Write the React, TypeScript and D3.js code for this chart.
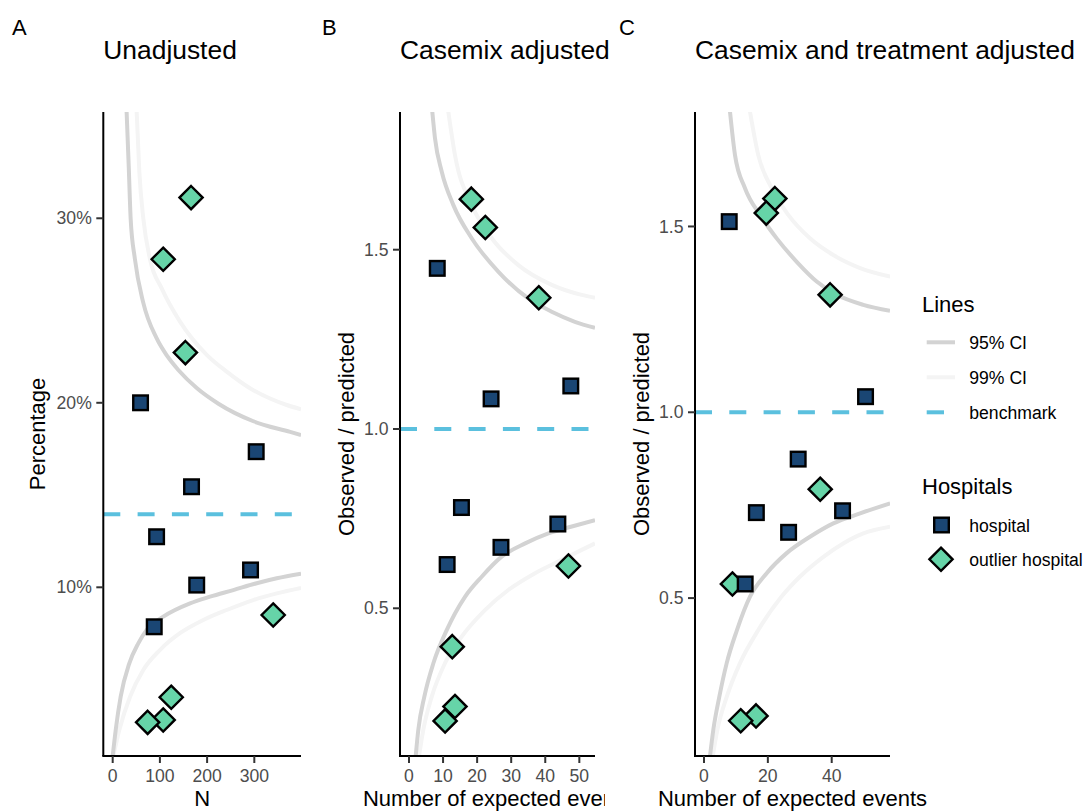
import React from "react";
import * as d3 from "d3";

type Pt = [number, number];

// ---------------- DATA ----------------
// Panel A: Unadjusted (N vs percentage)
const aHospital: Pt[] = [
  [59, 20.0], [304, 17.35], [167, 15.45], [93, 12.74], [292, 10.94], [178, 10.12], [88, 7.86],
];
const aOutlier: Pt[] = [
  [166, 31.12], [107, 27.78], [154, 22.72], [340, 8.5], [124, 4.04], [107, 2.81], [74, 2.68],
];
const aBenchmark = 13.96;
const aUpper95: Pt[] = [
  [29.5, 35.76], [34, 32.8], [38, 30.0], [47, 27.8], [65, 25.4], [93, 23.5], [115, 22.55],
  [140, 21.75], [178, 20.8], [224, 19.95], [298, 19.0], [376, 18.42], [399, 18.25],
];
const aUpper99: Pt[] = [
  [50.8, 35.76], [56.4, 32.53], [64.8, 30.0], [79, 27.78], [103.8, 26.2], [142.6, 24.4],
  [199.2, 22.6], [241.5, 21.69], [290.9, 20.79], [368.6, 19.88], [399, 19.65],
];
const aLower95: Pt[] = [
  [0, 0.86], [6.4, 2.27], [16.9, 4.07], [35.2, 5.88], [54.2, 6.96], [72, 7.69], [107.2, 8.41],
  [163.8, 9.13], [206.1, 9.49], [255.5, 9.85], [305, 10.22], [347.5, 10.49], [399, 10.74],
];
const aLower99: Pt[] = [
  [1.3, 0.86], [14, 2.27], [36.7, 4.07], [64.8, 5.52], [100, 6.6], [142.4, 7.51], [192, 8.23],
  [241.5, 8.77], [297.9, 9.31], [347.5, 9.67], [399, 9.97],
];
const aXTicks = [0, 100, 200, 300];
const aYTicks = [10, 20, 30];

// Panel B: Casemix adjusted (expected events vs O/P)
const bHospital: Pt[] = [
  [8.3, 1.448], [24.1, 1.084], [47.5, 1.12], [15.4, 0.781], [43.7, 0.735], [27.0, 0.67], [11.2, 0.622],
];
const bOutlier: Pt[] = [
  [18.3, 1.641], [22.4, 1.562], [38.1, 1.366], [46.8, 0.618], [12.7, 0.393], [13.5, 0.226], [10.6, 0.186],
];
const bBenchmark = 1.0;
const bUpper95: Pt[] = [
  [6.84, 1.885], [7.63, 1.811], [9.6, 1.718], [13.0, 1.625], [18.4, 1.532], [26.2, 1.439],
  [35.0, 1.364], [41.9, 1.327], [48.7, 1.299], [54.6, 1.282],
];
const bUpper99: Pt[] = [
  [11.54, 1.885], [13.5, 1.764], [18.4, 1.625], [24.3, 1.532], [32.1, 1.457], [41.9, 1.402],
  [50.7, 1.374], [54.6, 1.366],
];
const bLower95: Pt[] = [
  [1.97, 0.088], [2.73, 0.161], [4.49, 0.253], [7.13, 0.346], [11.07, 0.439], [16.44, 0.532],
  [21.34, 0.588], [27.2, 0.644], [34.1, 0.681], [40.9, 0.709], [47.8, 0.728], [54.6, 0.746],
];
const bLower99: Pt[] = [
  [2.94, 0.088], [4.2, 0.161], [6.66, 0.253], [10.57, 0.347], [15.47, 0.421], [22.3, 0.495],
  [29.15, 0.551], [37.0, 0.598], [44.8, 0.635], [50.7, 0.663], [54.6, 0.681],
];
const bXTicks = [0, 10, 20, 30, 40, 50];
const bYTicks = [0.5, 1.0, 1.5];

// Panel C: Casemix and treatment adjusted
const cHospital: Pt[] = [
  [7.9, 1.513], [50.6, 1.042], [29.5, 0.874], [16.4, 0.73], [43.4, 0.735], [26.5, 0.677], [12.9, 0.538],
];
const cOutlier: Pt[] = [
  [22.2, 1.575], [19.5, 1.536], [39.5, 1.316], [36.4, 0.793], [8.9, 0.538], [16.3, 0.183], [11.5, 0.17],
];
const cBenchmark = 1.0;
const cUpper95: Pt[] = [
  [8.14, 1.809], [9.71, 1.692], [12.84, 1.603], [17.54, 1.531], [22.77, 1.468], [29.04, 1.405],
  [35.3, 1.352], [41.57, 1.316], [49.9, 1.289], [58.26, 1.273],
];
const cUpper99: Pt[] = [
  [14.4, 1.809], [17.0, 1.692], [21.2, 1.603], [26.4, 1.531], [33.2, 1.468], [40.5, 1.423],
  [48.9, 1.388], [58.3, 1.365],
];
const cLower95: Pt[] = [
  [1.88, 0.075], [2.91, 0.145], [4.79, 0.234], [7.11, 0.325], [10.24, 0.412], [14.41, 0.504],
  [19.64, 0.567], [25.9, 0.621], [33.2, 0.665], [40.5, 0.701], [48.9, 0.728], [58.3, 0.755],
];
const cLower99: Pt[] = [
  [2.73, 0.075], [4.17, 0.145], [7.11, 0.234], [11.28, 0.325], [17.0, 0.414], [24.3, 0.504],
  [30.1, 0.558], [37.4, 0.611], [43.6, 0.647], [49.9, 0.674], [58.3, 0.692],
];
const cXTicks = [0, 20, 40];
const cYTicks = [0.5, 1.0, 1.5];

const legendLineLabels = ["95% CI", "99% CI", "benchmark"];
const legendPointLabels = ["hospital", "outlier hospital"];

// ---------------- STYLE / LAYOUT ----------------
const FONT = "'Liberation Sans', Arial, Helvetica, sans-serif";
const COL_95 = "#d3d3d3";
const COL_99 = "#f4f4f4";
const COL_BENCH = "#5bc0de";
const COL_HOSP = "#1a4674";
const COL_OUT = "#66d4a8";
const TICK_COL = "#4d4d4d";
const SQ = 14.6;
const DI = 11.6;
const MARK_SW = 2.4;

interface PanelCfg {
  id: string;
  tag: string;
  tagX: number;
  title: string;
  left: number;
  right: number;
  top: number;
  bottom: number;
  xDomain: [number, number];
  yDomain: [number, number];
  xTicks: number[];
  yTicks: number[];
  yFmt: (v: number) => string;
  xTitle: string;
  yTitle: string;
  yTitleX: number;
  clipRight?: number;
  hospital: Pt[];
  outlier: Pt[];
  bench: number;
  u95: Pt[];
  u99: Pt[];
  l95: Pt[];
  l99: Pt[];
}

const panels: PanelCfg[] = [
  {
    id: "A", tag: "A", tagX: 12, title: "Unadjusted",
    left: 103.3, right: 301, top: 112, bottom: 756,
    xDomain: [-19.9, 398.9], yDomain: [0.857, 35.76],
    xTicks: aXTicks, yTicks: aYTicks, yFmt: (v) => `${v}%`,
    xTitle: "N", yTitle: "Percentage", yTitleX: 45,
    hospital: aHospital, outlier: aOutlier, bench: aBenchmark,
    u95: aUpper95, u99: aUpper99, l95: aLower95, l99: aLower99,
  },
  {
    id: "B", tag: "B", tagX: 322, title: "Casemix adjusted",
    left: 400, right: 595, top: 112, bottom: 756,
    xDomain: [-2.64, 54.6], yDomain: [0.0881, 1.884],
    xTicks: bXTicks, yTicks: bYTicks, yFmt: (v) => d3.format(".1f")(v),
    xTitle: "Number of expected events", yTitle: "Observed / predicted", yTitleX: 354,
    clipRight: 605,
    hospital: bHospital, outlier: bOutlier, bench: bBenchmark,
    u95: bUpper95, u99: bUpper99, l95: bLower95, l99: bLower99,
  },
  {
    id: "C", tag: "C", tagX: 619, title: "Casemix and treatment adjusted",
    left: 695, right: 890, top: 112, bottom: 756,
    xDomain: [-2.82, 58.26], yDomain: [0.0751, 1.808],
    xTicks: cXTicks, yTicks: cYTicks, yFmt: (v) => d3.format(".1f")(v),
    xTitle: "Number of expected events", yTitle: "Observed / predicted", yTitleX: 649,
    hospital: cHospital, outlier: cOutlier, bench: cBenchmark,
    u95: cUpper95, u99: cUpper99, l95: cLower95, l99: cLower99,
  },
];

const diamondPath = (cx: number, cy: number, h: number) =>
  `M${cx},${cy - h}L${cx + h},${cy}L${cx},${cy + h}L${cx - h},${cy}Z`;

function Panel({ cfg }: { cfg: PanelCfg }) {
  const x = d3.scaleLinear().domain(cfg.xDomain).range([cfg.left, cfg.right]);
  const y = d3.scaleLinear().domain(cfg.yDomain).range([cfg.bottom, cfg.top]);
  const line = d3
    .line<Pt>()
    .x((d) => x(d[0]))
    .y((d) => y(d[1]))
    .curve(d3.curveMonotoneX);
  const clipId = `clip-${cfg.id}`;
  const cellClip = `cell-${cfg.id}`;
  const midY = (cfg.top + cfg.bottom) / 2;
  const midX = (cfg.left + cfg.right) / 2;
  return (
    <g>
      <defs>
        <clipPath id={clipId}>
          <rect x={cfg.left} y={cfg.top} width={cfg.right - cfg.left} height={cfg.bottom - cfg.top} />
        </clipPath>
        {cfg.clipRight && (
          <clipPath id={cellClip}>
            <rect x={0} y={0} width={cfg.clipRight} height={811} />
          </clipPath>
        )}
      </defs>
      {/* tag & title */}
      <text x={cfg.tagX} y={35} fontSize={22} fontFamily={FONT} fill="#000">{cfg.tag}</text>
      <text x={cfg.left} y={59.3} fontSize={26.4} fontFamily={FONT} fill="#000">{cfg.title}</text>

      {/* data layer */}
      <g clipPath={`url(#${clipId})`}>
        {[cfg.u99, cfg.l99].map((s, i) => (
          <path key={`99-${i}`} d={line(s) || ""} fill="none" stroke={COL_99} strokeWidth={4} />
        ))}
        {[cfg.u95, cfg.l95].map((s, i) => (
          <path key={`95-${i}`} d={line(s) || ""} fill="none" stroke={COL_95} strokeWidth={4} />
        ))}
        <line
          x1={x(cfg.xDomain[0])}
          x2={x(cfg.xDomain[1])}
          y1={y(cfg.bench)}
          y2={y(cfg.bench)}
          stroke={COL_BENCH}
          strokeWidth={4}
          strokeDasharray="17 17.3"
        />
        {cfg.outlier.map((d, i) => (
          <path
            key={`o-${i}`}
            d={diamondPath(x(d[0]), y(d[1]), DI)}
            fill={COL_OUT}
            stroke="#000"
            strokeWidth={MARK_SW}
            strokeLinejoin="miter"
          />
        ))}
        {cfg.hospital.map((d, i) => (
          <rect
            key={`h-${i}`}
            x={x(d[0]) - SQ / 2}
            y={y(d[1]) - SQ / 2}
            width={SQ}
            height={SQ}
            fill={COL_HOSP}
            stroke="#000"
            strokeWidth={MARK_SW}
          />
        ))}
      </g>

      {/* axes */}
      <line x1={cfg.left} x2={cfg.left} y1={cfg.top} y2={cfg.bottom} stroke="#000" strokeWidth={2} />
      <line x1={cfg.left - 1} x2={cfg.right} y1={cfg.bottom} y2={cfg.bottom} stroke="#000" strokeWidth={2} />
      {cfg.yTicks.map((t) => (
        <g key={`yt-${t}`}>
          <line x1={cfg.left - 7} x2={cfg.left} y1={y(t)} y2={y(t)} stroke="#333" strokeWidth={2} />
          <text
            x={cfg.left - 11.5}
            y={y(t)}
            dy="0.35em"
            textAnchor="end"
            fontSize={17.6}
            fontFamily={FONT}
            fill={TICK_COL}
          >
            {cfg.yFmt(t)}
          </text>
        </g>
      ))}
      {cfg.xTicks.map((t) => (
        <g key={`xt-${t}`}>
          <line x1={x(t)} x2={x(t)} y1={cfg.bottom} y2={cfg.bottom + 7} stroke="#333" strokeWidth={2} />
          <text x={x(t)} y={781.5} textAnchor="middle" fontSize={17.6} fontFamily={FONT} fill={TICK_COL}>
            {t}
          </text>
        </g>
      ))}
      <g clipPath={cfg.clipRight ? `url(#${cellClip})` : undefined}>
        <text x={midX} y={806} textAnchor="middle" fontSize={22} fontFamily={FONT} fill="#000">
          {cfg.xTitle}
        </text>
      </g>
      <text
        transform={`translate(${cfg.yTitleX},${midY}) rotate(-90)`}
        textAnchor="middle"
        fontSize={22}
        fontFamily={FONT}
        fill="#000"
      >
        {cfg.yTitle}
      </text>
    </g>
  );
}

function Legend() {
  const lineStyles = [
    { stroke: COL_95, x2: 955 },
    { stroke: COL_99, x2: 955 },
    { stroke: COL_BENCH, x2: 944 },
  ];
  const lineYs = [342.3, 377.3, 412.3];
  const ptYs = [525, 559.3];
  return (
    <g fontFamily={FONT}>
      <text x={922} y={312.3} fontSize={22} fill="#000">Lines</text>
      {legendLineLabels.map((lab, i) => (
        <g key={lab}>
          <line x1={926.7} x2={lineStyles[i].x2} y1={lineYs[i]} y2={lineYs[i]} stroke={lineStyles[i].stroke} strokeWidth={4} />
          <text x={969.3} y={lineYs[i] + 6.5} fontSize={17.6} fill="#000">{lab}</text>
        </g>
      ))}
      <text x={922} y={494} fontSize={22} fill="#000">Hospitals</text>
      <rect x={941.5 - SQ / 2} y={ptYs[0] - SQ / 2} width={SQ} height={SQ} fill={COL_HOSP} stroke="#000" strokeWidth={MARK_SW} />
      <path d={diamondPath(941, ptYs[1], DI)} fill={COL_OUT} stroke="#000" strokeWidth={MARK_SW} />
      {legendPointLabels.map((lab, i) => (
        <text key={lab} x={969.3} y={ptYs[i] + 6.5} fontSize={17.6} fill="#000">{lab}</text>
      ))}
    </g>
  );
}

export default function App() {
  return (
    <svg
      width={1088}
      height={811}
      viewBox="0 0 1088 811"
      style={{ position: "absolute", left: 0, top: 0, background: "#fff", display: "block" }}
    >
      <rect x={0} y={0} width={1088} height={811} fill="#fff" />
      {panels.map((p) => (
        <Panel key={p.id} cfg={p} />
      ))}
      <Legend />
    </svg>
  );
}
